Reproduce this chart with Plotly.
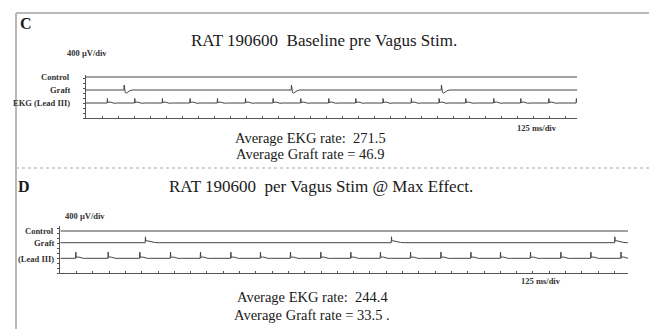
import plotly.graph_objects as go

W, H = 657, 329

# ---------------- data ----------------
# Panel C: baseline pre vagus stimulation (times in ms along the sweep)
C_SWEEP_MS = 3836
C_EKG_BEATS_MS = [166, 380, 596, 812, 1026, 1245, 1461, 1677, 1896, 2107,
                  2320, 2541, 2758, 2966, 3185, 3396, 3615, 3830]
C_GRAFT_BEATS_MS = [297, 1604, 2776]
C_EKG_RATE = 271.5
C_GRAFT_RATE = 46.9

# Panel D: per vagus stim @ max effect
D_SWEEP_MS = 4354
D_EKG_BEATS_MS = [118, 366, 609, 844, 1074, 1307, 1534, 1764, 1997, 2227,
                  2454, 2685, 2918, 3148, 3375, 3605, 3838, 4068, 4299]
D_GRAFT_BEATS_MS = [652, 2539, 4252]
D_EKG_RATE = 244.4
D_GRAFT_RATE = 33.5

# beat shapes: offset from beat (ms) and deflection (µV)
C_EKG_SHAPE_MS = [-6, -1, 1, 5, 10, 22, 36, 55, 80]
C_EKG_SHAPE_UV = [0, 0, 360, 0, 60, 80, 40, -20, 0]
C_GRAFT_SHAPE_MS = [-5, -1, 1, 4, 9, 18, 30, 45, 65]
C_GRAFT_SHAPE_UV = [0, 0, 400, 0, -200, -250, -170, -60, 0]
D_EKG_SHAPE_MS = [-6, -1, 1, 5, 10, 24, 40, 60, 85]
D_EKG_SHAPE_UV = [0, 0, 500, 40, 90, 100, 50, -10, 0]
D_GRAFT_SHAPE_MS = [-5, -1, 1, 4, 10, 25, 45, 70, 100]
D_GRAFT_SHAPE_UV = [0, 0, 470, 120, 160, 110, 60, 20, 0]

CHANNELS_C = ["Control", "Graft", "EKG (Lead III)"]
CHANNELS_D = ["Control", "Graft", "(Lead III)"]

TITLE_C = "RAT 190600\u00a0\u00a0Baseline pre Vagus Stim."
TITLE_D = "RAT 190600\u00a0\u00a0per Vagus Stim @ Max Effect."
VSCALE = "400 µV/div"
HSCALE = "125 ms/div"

# ---------------- layout helpers ----------------
def px(x):
    return x / W

def py(y):
    return 1 - y / H

UV_PER_PX = 80
# channel baselines (µV above the bottom axis)
C_OFFS = [41 * UV_PER_PX, 28 * UV_PER_PX, 15 * UV_PER_PX]
D_OFFS = [42.3 * UV_PER_PX, 30.6 * UV_PER_PX, 15 * UV_PER_PX]
C_YMAX = 43 * UV_PER_PX
D_YMAX = 47.3 * UV_PER_PX


def build(beats, sh_t, sh_v, sweep, off):
    xs, ys = [0], [off]
    for b in beats:
        for dt, v in zip(sh_t, sh_v):
            t = b + dt
            if 0 < t < sweep:
                xs.append(t)
                ys.append(off + v)
    xs.append(sweep)
    ys.append(off)
    return xs, ys


TRACE = dict(color="#444444", width=1)
fig = go.Figure()

# panel C traces
fig.add_trace(go.Scatter(x=[0, C_SWEEP_MS], y=[C_OFFS[0]] * 2, mode="lines",
                         line=TRACE, xaxis="x", yaxis="y", showlegend=False))
x, y = build(C_GRAFT_BEATS_MS, C_GRAFT_SHAPE_MS, C_GRAFT_SHAPE_UV, C_SWEEP_MS, C_OFFS[1])
fig.add_trace(go.Scatter(x=x, y=y, mode="lines", line=TRACE, xaxis="x", yaxis="y", showlegend=False))
x, y = build(C_EKG_BEATS_MS, C_EKG_SHAPE_MS, C_EKG_SHAPE_UV, C_SWEEP_MS, C_OFFS[2])
fig.add_trace(go.Scatter(x=x, y=y, mode="lines", line=TRACE, xaxis="x", yaxis="y", showlegend=False))

# panel D traces
fig.add_trace(go.Scatter(x=[0, D_SWEEP_MS], y=[D_OFFS[0]] * 2, mode="lines",
                         line=TRACE, xaxis="x2", yaxis="y2", showlegend=False))
x, y = build(D_GRAFT_BEATS_MS, D_GRAFT_SHAPE_MS, D_GRAFT_SHAPE_UV, D_SWEEP_MS, D_OFFS[1])
fig.add_trace(go.Scatter(x=x, y=y, mode="lines", line=TRACE, xaxis="x2", yaxis="y2", showlegend=False))
x, y = build(D_EKG_BEATS_MS, D_EKG_SHAPE_MS, D_EKG_SHAPE_UV, D_SWEEP_MS, D_OFFS[2])
fig.add_trace(go.Scatter(x=x, y=y, mode="lines", line=TRACE, xaxis="x2", yaxis="y2", showlegend=False))

AX = dict(showline=True, linecolor="#555", linewidth=1, showgrid=False, zeroline=False,
          showticklabels=False, tickcolor="#555", ticklen=2, tickwidth=1, fixedrange=True)

fig.update_layout(
    width=W, height=H, margin=dict(l=0, r=0, t=0, b=0),
    paper_bgcolor="white", plot_bgcolor="white",
    xaxis=dict(AX, domain=[px(78), px(569)], range=[0, C_SWEEP_MS], ticks="inside",
               tick0=0, dtick=125, anchor="y"),
    yaxis=dict(AX, domain=[py(110), py(67)], range=[0, C_YMAX], ticks="outside",
               tick0=0, dtick=400, anchor="x"),
    xaxis2=dict(AX, domain=[px(52.3), px(620)], range=[0, D_SWEEP_MS], ticks="inside",
                tick0=0, dtick=125, anchor="y2"),
    yaxis2=dict(AX, domain=[py(265.3), py(218)], range=[0, D_YMAX], ticks="outside",
                tick0=0, dtick=400, anchor="x2"),
)

SERIF = "Liberation Serif, Times New Roman, serif"
anns = []


def txt(s, x, y, size, xanchor="center", bold=False, color="#1a1a1a"):
    if bold:
        s = "<b>" + s + "</b>"
    anns.append(dict(text=s, x=px(x), y=py(y), xref="paper", yref="paper",
                     xanchor=xanchor, yanchor="middle", showarrow=False,
                     font=dict(family=SERIF, size=size, color=color)))


RATE_FONT = 14.5

# panel C texts
txt("C", 10, 15, 16, "left", bold=True)
txt(TITLE_C, 316, 32, 17)
txt(VSCALE, 57, 45, 8.5, "left", bold=True, color="#333")
for lab, yy in zip(CHANNELS_C, [69, 82, 95]):
    txt(lab, 64, yy, 8.5, "right", bold=True, color="#333")
txt(HSCALE, 507, 120, 8.5, "left", bold=True, color="#333")
txt("Average EKG rate:\u00a0\u00a0" + str(C_EKG_RATE), 302, 130, RATE_FONT)
txt("Average Graft rate = " + str(C_GRAFT_RATE), 302, 145.5, RATE_FONT)

# panel D texts
txt("D", 8, 178, 16, "left", bold=True)
txt(TITLE_D, 313, 178, 17)
txt(VSCALE, 55, 208, 8.5, "left", bold=True, color="#333")
for lab, yy in zip(CHANNELS_D, [223, 235, 251]):
    txt(lab, 48, yy, 8.5, "right", bold=True, color="#333")
txt(HSCALE, 511, 273, 8.5, "left", bold=True, color="#333")
txt("Average EKG rate:\u00a0\u00a0" + str(D_EKG_RATE), 304, 289, RATE_FONT)
txt("Average Graft rate = " + str(D_GRAFT_RATE) + " .", 304, 307, RATE_FONT)

fig.update_layout(annotations=anns)

# frame lines of the scanned figure
BORDER = dict(color="#b8b8b8", width=2)
shapes = [
    dict(type="line", xref="paper", yref="paper", x0=px(8), x1=1, y0=py(5), y1=py(5), line=BORDER),
    dict(type="line", xref="paper", yref="paper", x0=px(8), x1=px(8), y0=py(5), y1=py(322), line=BORDER),
    dict(type="line", xref="paper", yref="paper", x0=px(8), x1=1, y0=py(160), y1=py(160),
         line=dict(color="#c4c4c4", width=1.5, dash="dot")),
    dict(type="line", xref="paper", yref="paper", x0=px(8), x1=1, y0=py(322), y1=py(322), line=BORDER),
]
fig.update_layout(shapes=shapes)

fig.write_html("out.html")
